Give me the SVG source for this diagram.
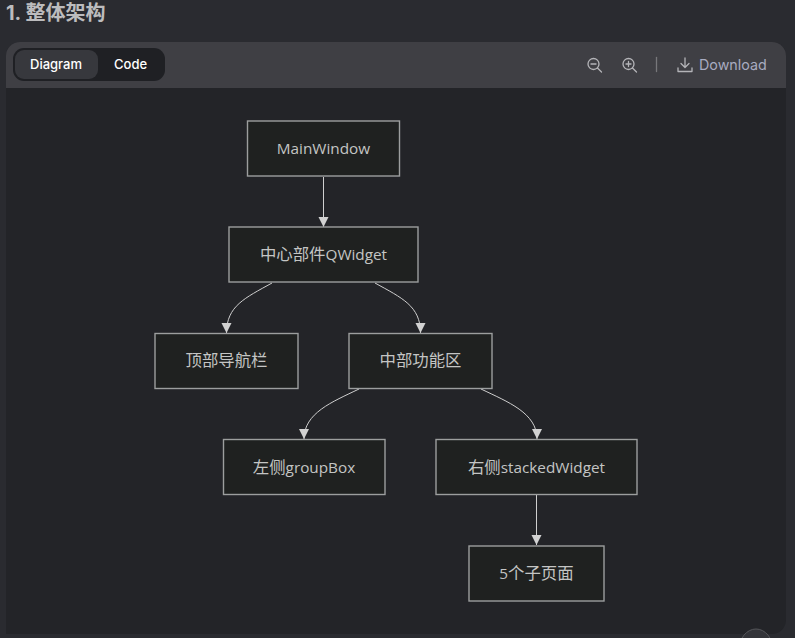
<svg xmlns="http://www.w3.org/2000/svg" width="795" height="638" viewBox="0 0 795 638">
<style>
text{font-family:"Noto Sans","Noto Sans CJK SC",sans-serif}
.ui{font-family:Inter,"Liberation Sans",sans-serif}
.n rect{fill:#1f2120;stroke:#9c9e9e;stroke-width:1.4}
.n text{font-family:"Open Sans","Noto Sans CJK SC",sans-serif;font-size:15.300px;font-weight:500;fill:#c4c5c4;text-anchor:middle}
.n .c{font-family:"Noto Sans CJK SC",sans-serif;font-size:16.400px;font-weight:400}
.e{fill:none;stroke:#cfcfcf;stroke-width:1;marker-end:url(#a)}
.i{fill:none;stroke:#b4b4b8;stroke-width:1.3;stroke-linecap:round;stroke-linejoin:round}
</style>
<defs><marker id="a" markerUnits="userSpaceOnUse" markerWidth="11" markerHeight="11" refX="10" refY="5.500" orient="auto"><path d="M0 0.500L10 5.500L0 10.500z" fill="#d2d2d2"/></marker></defs>
<rect width="795" height="638" fill="#2a2b30"/>
<text x="6" y="20" class="ui" font-size="20" font-weight="700" fill="#bcbcbe" style="font-family:Inter,'Noto Sans CJK SC',sans-serif">1. 整体架构</text>
<path d="M6 630V56a14 14 0 0 1 14-14H772a14 14 0 0 1 14 14V620a14 14 0 0 1-14 14H6z" fill="#232428"/>
<path d="M6 88V56a14 14 0 0 1 14-14H772a14 14 0 0 1 14 14V88z" fill="#3f3f44"/>
<rect x="13" y="48" width="152" height="33" rx="11" fill="#1f2024"/>
<rect x="15" y="50" width="83" height="29" rx="9" fill="#37383d"/>
<text x="30" y="69" class="ui" font-size="13" font-weight="500" fill="#fff">Diagram</text>
<text x="114" y="69" class="ui" font-size="13" font-weight="500" fill="#fff">Code</text>
<g class="i">
<circle cx="593.500" cy="64" r="5.500"/><path d="M591 64h5M597.500 68l4 4"/>
<circle cx="628.500" cy="64" r="5.500"/><path d="M626 64h5M628.500 61.500v5M632.500 68l4 4"/>
<path d="M656.500 57.500v14" stroke="#77777b"/>
<path d="M685 58v9M681 63.500l4 4 4-4M678 68v3.500h14V68"/>
</g>
<text x="699" y="70" class="ui" font-size="14.300" fill="#a8abc0">Download</text>
<ellipse cx="756" cy="650" rx="17" ry="21" fill="#333439" stroke="#55565a"/>
<g id="connectors">
<path class="e" d="M323.500 177V227"/>
<path class="e" d="M272 283C245 298 226.500 306 226.500 333"/>
<path class="e" d="M375 283C402 298 420.500 306 420.500 333"/>
<path class="e" d="M359 389C332 402 304 413 304 439"/>
<path class="e" d="M481 389C508 402 537 413 537 439"/>
<path class="e" d="M536.500 495V545"/>
</g>
<g id="mainwindow" class="n"><rect x="247.500" y="121" width="152" height="55"/><text x="323.500" y="154">MainWindow</text></g>
<g id="central" class="n"><rect x="229" y="227" width="189" height="55"/><text x="323.500" y="260"><tspan class="c">中心部件</tspan>QWidget</text></g>
<g id="topnav" class="n"><rect x="155" y="333.500" width="143" height="55"/><text x="226.500" y="366" class="c">顶部导航栏</text></g>
<g id="middle" class="n"><rect x="349" y="333.500" width="143" height="55"/><text x="420.500" y="366" class="c">中部功能区</text></g>
<g id="left" class="n"><rect x="223.500" y="439.500" width="161.500" height="55"/><text x="304" y="473"><tspan class="c">左侧</tspan>groupBox</text></g>
<g id="right" class="n"><rect x="436" y="439.500" width="201" height="55"/><text x="536.500" y="473"><tspan class="c">右侧</tspan>stackedWidget</text></g>
<g id="pages" class="n"><rect x="469" y="546" width="135" height="55"/><text x="536.500" y="579">5<tspan class="c">个子页面</tspan></text></g>
</svg>
